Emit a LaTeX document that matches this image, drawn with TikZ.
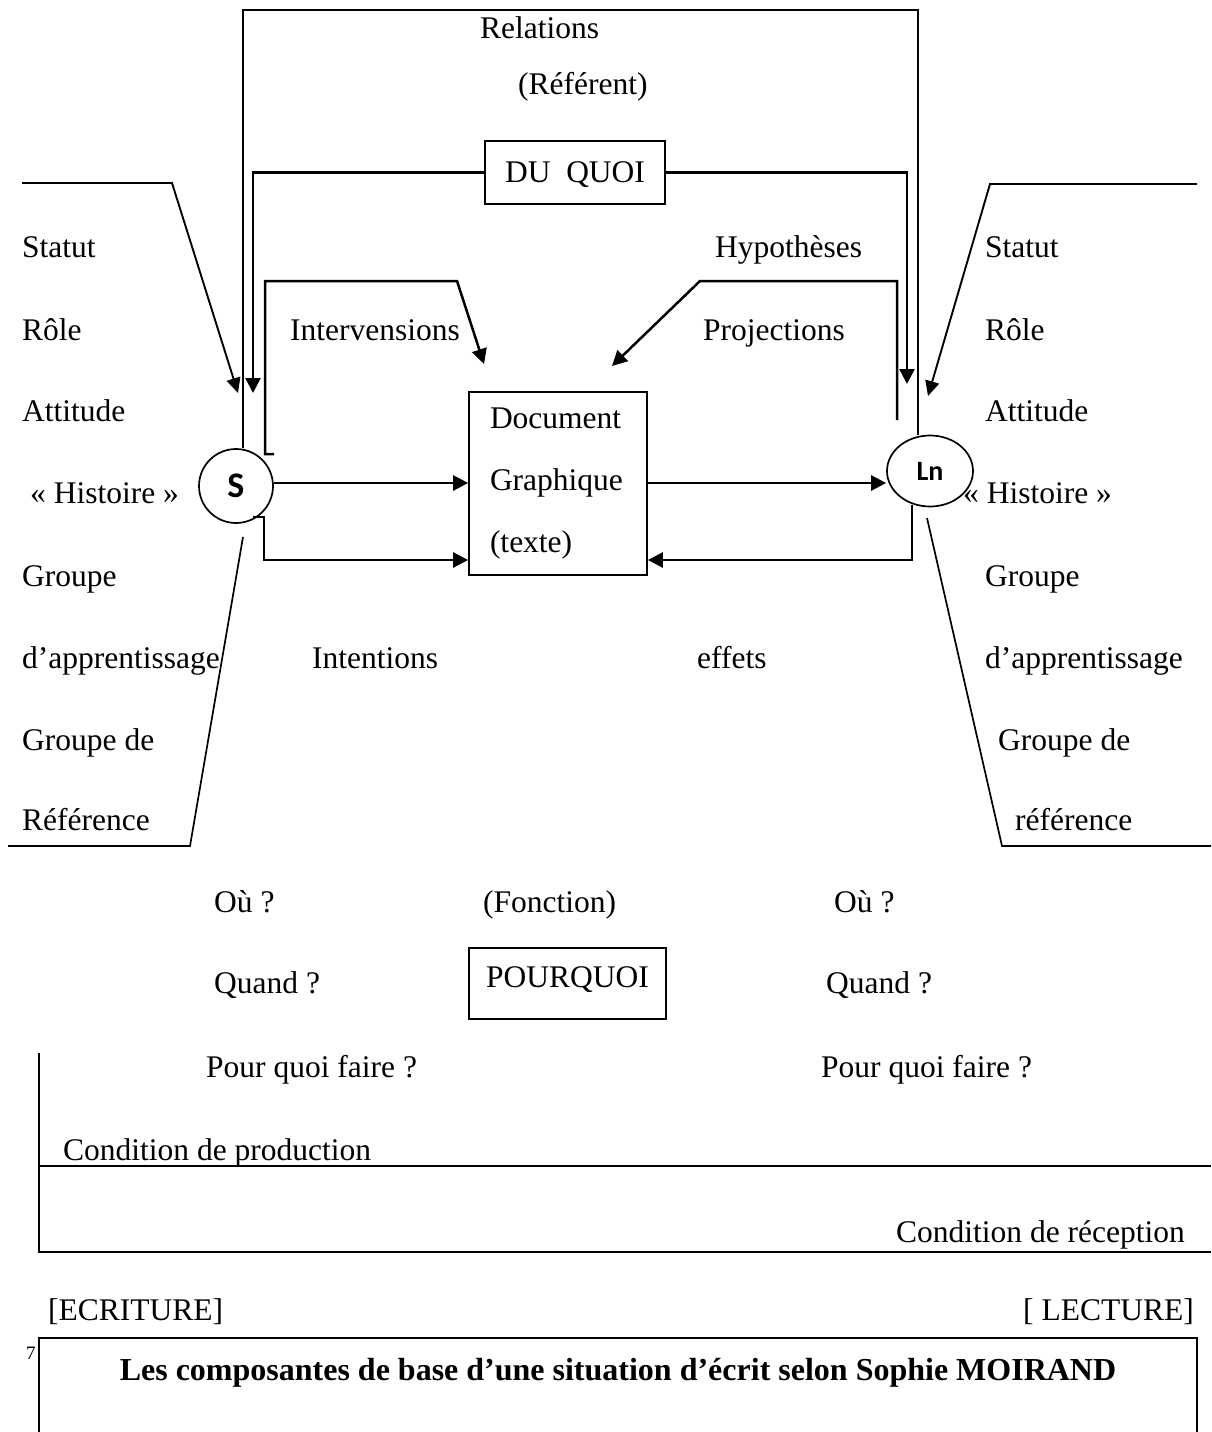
\documentclass[tikz,border=0pt]{standalone}
\usepackage{fontspec}
\setmainfont{Liberation Serif}
\newfontfamily\calibri{Carlito}
\usetikzlibrary{arrows.meta,shapes.geometric}

\tikzset{
  txt/.style={anchor=base west, inner sep=0pt},
  conn/.style={line width=2.5pt},
  fine/.style={line width=1.7pt},
  arr/.style={conn, -{Triangle[length=15pt,width=15pt]}},
  thinarr/.style={line width=1.9pt, -{Triangle[length=15pt,width=14pt]}},
  box/.style={draw, line width=1.7pt, inner sep=0pt},
}

\begin{document}
\begin{tikzpicture}[x=1pt,y=-1pt, font=\fontsize{31.5}{38}\selectfont]
  \useasboundingbox (0,0) rectangle (1211,1432);

  % S, document, Ln
  \node[draw, circle, line width=1.7pt, minimum size=74pt, inner sep=0pt,
        font=\calibri\bfseries\fontsize{36}{36}\selectfont] (S) at (236,486) {S};
  \node[draw, ellipse, line width=1.7pt, minimum width=86pt, minimum height=71pt, inner sep=0pt,
        font=\calibri\bfseries\fontsize{28}{28}\selectfont] (Ln) at (930,471) {Ln};
  \node[box, inner xsep=21pt, minimum height=183pt, text width=136pt, align=left,
        font=\fontsize{31.5}{62}\selectfont] (doc) at (558,483.5) {Document\\Graphique\\(texte)};
  \node[box, anchor=north, minimum width=180pt, text height=42pt, text depth=21pt] (duquoi) at (575,140) {DU~~QUOI};
  \node[box, anchor=north, minimum width=197pt, text height=40pt, text depth=31pt] (pourquoi) at (567.5,947) {POURQUOI};

  % left column
  \node[txt] (statutL) at (22,257) {Statut};
  \node[txt] (roleL) at (22,340) {Rôle};
  \node[txt] (attitudeL) at (22,421) {Attitude};
  \node[txt] (histoireL) at (30,503) {« Histoire »};
  \node[txt] (groupeL) at (22,586) {Groupe};
  \node[txt] (apprL) at (22,668) {d’apprentissage};
  \node[txt] (groupedeL) at (22,750) {Groupe de};
  \node[txt] (refL) at (22,830) {Référence};

  % right column
  \node[txt] (statutR) at (985,257) {Statut};
  \node[txt] (roleR) at (985,340) {Rôle};
  \node[txt] (attitudeR) at (985,421) {Attitude};
  \node[txt] (histoireR) at (963,503) {« Histoire »};
  \node[txt] (groupeR) at (985,586) {Groupe};
  \node[txt] (apprR) at (985,668) {d’apprentissage};
  \node[txt] (groupedeR) at (998,750) {Groupe de};
  \node[txt] (refR) at (1015,830) {référence};

  % middle labels
  \node[txt] (relations) at (480,38) {Relations};
  \node[txt] (referent) at (518,94) {(Référent)};
  \node[txt] (hypo) at (715,257) {Hypothèses};
  \node[txt] (interv) at (290,340) {Intervensions};
  \node[txt] (proj) at (703,340) {Projections};
  \node[txt] (intent) at (312,668) {Intentions};
  \node[txt] (effets) at (697,668) {effets};
  \node[txt] (ouL) at (214,912) {Où ?};
  \node[txt] (fonction) at (483,912) {(Fonction)};
  \node[txt] (ouR) at (834,912) {Où ?};
  \node[txt] (quandL) at (214,993) {Quand ?};
  \node[txt] (quandR) at (826,993) {Quand ?};
  \node[txt] (faireL) at (206,1077) {Pour quoi faire ?};
  \node[txt] (faireR) at (821,1077) {Pour quoi faire ?};
  \node[txt] (prod) at (63,1160) {Condition de production};
  \node[txt] (recep) at (896,1242) {Condition de réception};
  \node[txt] (ecriture) at (48,1320) {[ECRITURE]};
  \node[txt] (lecture) at (1023,1320) {[ LECTURE]};
  \node[txt, font=\fontsize{19}{19}\selectfont] (note) at (26,1359) {7};
  \node[anchor=base, inner sep=0pt, font=\bfseries\fontsize{32}{38}\selectfont] (caption) at (618,1380)
    {Les composantes de base d’une situation d’écrit selon Sophie MOIRAND};

  % connectors
  \coordinate (topL) at (243,10);
  \coordinate (topR) at (918,10);
  \draw[conn] (S.north -| topL) -- (topL) -- (topR) -- (Ln.north -| topR);

  \coordinate (dqL) at (253,393);
  \coordinate (dqR) at (907,384);
  \draw[arr] (duquoi.west) -| (dqL);
  \draw[arr] (duquoi.east) -| (dqR);

  \coordinate (stL) at (22,183);
  \coordinate (stLk) at (172,183);
  \coordinate (stLt) at (238,393);
  \draw[thinarr] (stL) -- (stLk) -- (stLt);
  \coordinate (stR) at (1197,184);
  \coordinate (stRk) at (990,184);
  \coordinate (stRt) at (928,396);
  \draw[thinarr] (stR) -- (stRk) -- (stRt);

  \coordinate (ivA) at (274,454);
  \coordinate (ivB) at (265,281);
  \coordinate (ivC) at (457,281);
  \coordinate (ivT) at (484,364);
  \draw[arr] (ivA) -| (ivB) -- (ivC) -- (ivT);

  \coordinate (hyA) at (897,420);
  \coordinate (hyB) at (700,281);
  \coordinate (hyT) at (612,366);
  \draw[arr] (hyA) |- (hyB) -- (hyT);

  \coordinate (midrow) at (0,483);
  \coordinate (lowrow) at (0,560);
  \draw[arr] (S.east |- midrow) -- (doc.west |- midrow);
  \draw[arr] (doc.east |- midrow) -- (Ln.west |- midrow);
  \coordinate (sLow) at (253,517);
  \draw[arr] (sLow) -- ++(11,0) |- (doc.west |- lowrow);
  \coordinate (lnLow) at (912,505);
  \draw[arr] (lnLow) |- (doc.east |- lowrow);

  % brackets and frames
  \draw[fine] (243,537) -- (190,846) -- (8,846);
  \draw[fine] (927,518) -- (1002,846) -- (1211,846);
  \draw[fine] (39,1053) -- (39,1252) -- (1211,1252);
  \draw[fine] (39,1166) -- (1211,1166);
  \draw[conn] (39,1432) -- (39,1338) -- (1197,1338) -- (1197,1432);
\end{tikzpicture}
\end{document}
